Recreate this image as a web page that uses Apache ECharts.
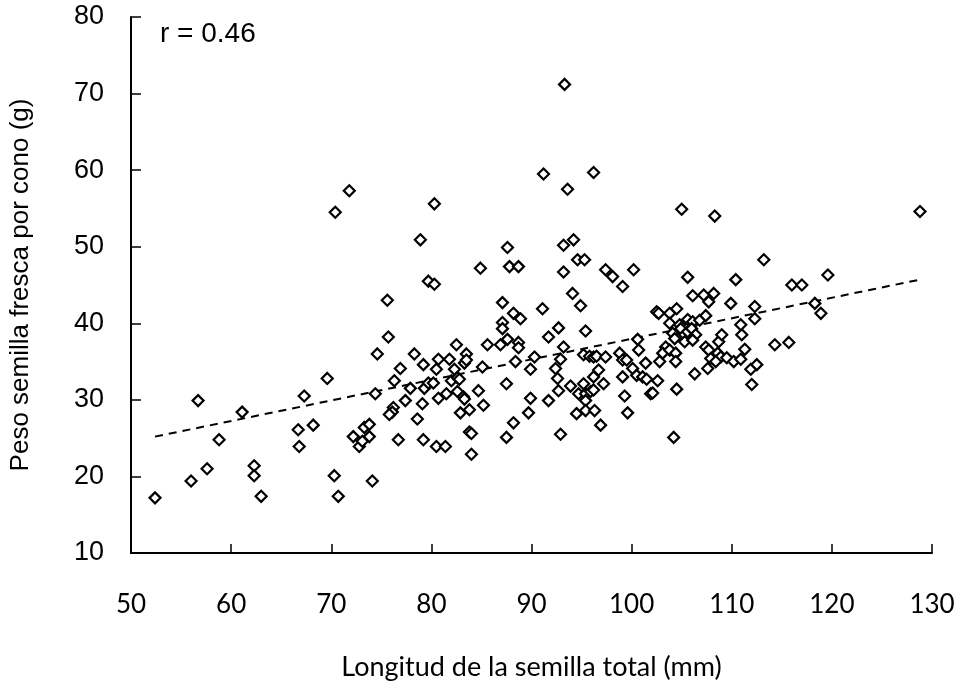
<!DOCTYPE html>
<html>
<head>
<meta charset="utf-8">
<script src="https://cdn.jsdelivr.net/npm/echarts@6/dist/echarts.min.js"></script>
<style>
html,body{margin:0;padding:0;background:#fff;}
#chart{width:965px;height:695px;}
</style>
</head>
<body>
<div id="chart"></div>
<script>
// Seed length (mm)
const seedLength = [
52.4,56.0,57.6,56.7,58.8,61.1,62.3,62.3,63.0,66.7,66.8,67.3,68.2,69.6,70.3,70.7,70.4,71.8,72.2,72.8,
73.3,73.8,73.8,73.1,74.1,74.4,74.6,75.6,75.7,76.2,76.1,75.8,76.3,76.9,76.7,77.4,77.9,78.3,78.6,78.9,
79.1,79.2,79.2,79.3,79.7,79.7,80.3,80.3,80.2,80.5,80.7,80.5,81.4,80.7,81.5,81.8,82.0,82.3,82.6,82.8,
82.5,82.6,83.2,83.3,82.9,83.5,83.3,83.5,83.8,83.8,84.0,84.0,84.7,84.9,85.1,85.2,85.6,86.9,87.1,87.1,
87.1,87.6,87.8,88.7,88.2,88.9,87.6,87.5,87.5,88.2,88.7,88.7,88.4,89.7,89.9,89.9,90.3,91.1,91.2,91.7,
91.7,92.4,92.7,92.6,92.7,92.9,92.9,93.2,93.3,93.6,96.2,93.2,94.2,94.6,95.3,93.2,94.1,94.9,95.4,93.9,
95.2,95.8,96.2,96.5,97.4,96.7,96.2,97.2,95.2,94.7,95.4,95.9,96.2,95.4,94.5,95.4,96.3,96.9,97.4,98.1,
99.1,100.2,98.8,99.1,99.5,99.1,99.3,99.6,100.6,100.7,100.1,100.5,101.1,101.5,101.4,101.9,102.6,102.8,102.5,102.7,
103.8,104.5,103.8,104.8,105.6,106.1,106.8,107.4,104.1,104.9,105.3,105.6,106.0,106.4,104.3,105.3,106.1,103.4,103.1,103.8,
104.4,104.4,104.5,102.1,104.2,105.0,105.6,106.1,107.2,107.7,108.2,108.3,109.9,110.4,107.4,107.7,107.9,108.6,108.9,108.7,
109.0,107.6,108.4,106.3,109.5,110.2,110.9,111.3,111.0,110.9,111.9,112.5,112.0,112.3,112.3,113.2,114.3,115.7,116.0,117.0,
118.3,118.9,119.6,128.8
];
// Fresh seed weight per cone (g)
const seedWeight = [
17.2,19.4,21.0,29.9,24.8,28.4,21.4,20.1,17.4,26.1,23.9,30.5,26.7,32.8,20.1,17.4,54.5,57.3,25.2,23.9,
26.4,26.8,25.2,24.6,19.4,30.8,36.0,43.0,38.2,29.0,28.4,28.1,32.5,34.1,24.8,29.9,31.5,36.0,27.5,50.9,
29.5,34.6,24.8,31.5,32.2,45.5,45.1,55.6,32.2,34.0,35.3,23.9,23.9,30.2,30.8,35.3,32.5,34.0,32.9,32.7,
37.2,31.1,30.4,30.1,28.3,36.0,34.8,35.2,28.7,25.8,25.6,22.9,31.2,47.2,34.3,29.3,37.2,37.2,42.7,40.1,
39.3,49.9,47.4,47.4,41.3,40.6,37.9,32.1,25.1,27.0,37.5,36.8,35.0,28.3,30.2,34.0,35.6,41.9,59.5,38.2,
29.9,34.1,39.4,32.8,31.2,35.3,25.5,36.9,71.2,57.5,59.7,50.2,50.9,48.3,48.3,46.7,43.9,42.3,39.0,31.8,
35.9,35.7,35.6,35.7,35.6,33.9,33.0,32.1,32.1,30.8,30.8,31.1,31.3,29.9,28.2,28.6,28.6,26.7,47.0,46.1,
44.8,47.0,36.1,35.2,35.2,33.0,30.5,28.3,37.9,36.5,34.1,33.2,33.0,32.7,34.8,30.8,32.5,35.0,41.5,41.3,
41.3,41.9,40.0,39.8,40.5,40.2,40.4,41.0,38.7,39.3,38.5,38.9,39.3,38.5,38.0,37.6,37.8,36.9,36.1,36.5,
36.1,35.0,31.4,30.9,25.1,54.9,46.0,43.6,43.7,42.8,43.9,54.0,42.6,45.7,36.9,36.5,35.4,36.1,35.6,37.6,
38.5,34.1,35.0,33.4,35.5,35.0,35.3,36.6,38.5,39.8,34.0,34.6,32.0,42.2,40.6,48.3,37.2,37.5,45.0,45.0,
42.6,41.3,46.3,54.6
];
// Trend line end points
const trendX = [52.4, 128.8];
const trendY = [25.2, 45.7];
const xTicks = [50, 60, 70, 80, 90, 100, 110, 120, 130];
const yTicks = [10, 20, 30, 40, 50, 60, 70, 80];
const rText = 'r = 0.46';
const xTitle = 'Longitud de la semilla total (mm)';
const yTitle = 'Peso semilla fresca por cono (g)';

const points = seedLength.map((x, i) => [x, seedWeight[i]]);
const trend = trendX.map((x, i) => [x, trendY[i]]);

const chart = echarts.init(document.getElementById('chart'), null, {renderer: 'canvas'});
chart.setOption({
  animation: false,
  backgroundColor: '#ffffff',
  grid: {left: 123, right: 33, top: 17, bottom: 142, containLabel: false},
  xAxis: {
    type: 'value',
    min: xTicks[0], max: xTicks[xTicks.length - 1], interval: 10,
    splitLine: {show: false},
    axisLine: {show: true, lineStyle: {color: '#000', width: 2}},
    axisTick: {show: true, inside: true, length: 9, lineStyle: {color: '#000', width: 1.5}},
    axisLabel: {color: '#000', fontFamily: 'Lato', fontSize: 26, margin: 39},
    name: xTitle,
    nameLocation: 'middle',
    nameGap: 101,
    nameTextStyle: {color: '#000', fontFamily: 'Lato', fontSize: 27}
  },
  yAxis: {
    type: 'value',
    min: yTicks[0], max: yTicks[yTicks.length - 1], interval: 10,
    splitLine: {show: false},
    axisLine: {show: true, lineStyle: {color: '#000', width: 2}},
    axisTick: {show: true, inside: true, length: 10, lineStyle: {color: '#000', width: 1.5}},
    axisLabel: {color: '#000', fontFamily: 'Liberation Sans', fontSize: 27, margin: 27},
    name: yTitle,
    nameLocation: 'middle',
    nameGap: 97,
    nameTextStyle: {color: '#000', fontFamily: 'Liberation Sans', fontSize: 26}
  },
  graphic: [{
    type: 'text', left: 160, top: 20,
    style: {text: rText, fill: '#000', font: '28px "Liberation Sans"'}
  }],
  series: [
    {
      type: 'line',
      data: trend,
      symbol: 'none',
      lineStyle: {color: '#000', width: 2, type: [8, 6]},
      z: 1
    },
    {
      type: 'scatter',
      data: points,
      symbol: 'diamond',
      symbolSize: [11, 11],
      itemStyle: {color: '#fff', borderColor: '#000', borderWidth: 2.2, opacity: 1},
      z: 2
    }
  ]
});
</script>
</body>
</html>
